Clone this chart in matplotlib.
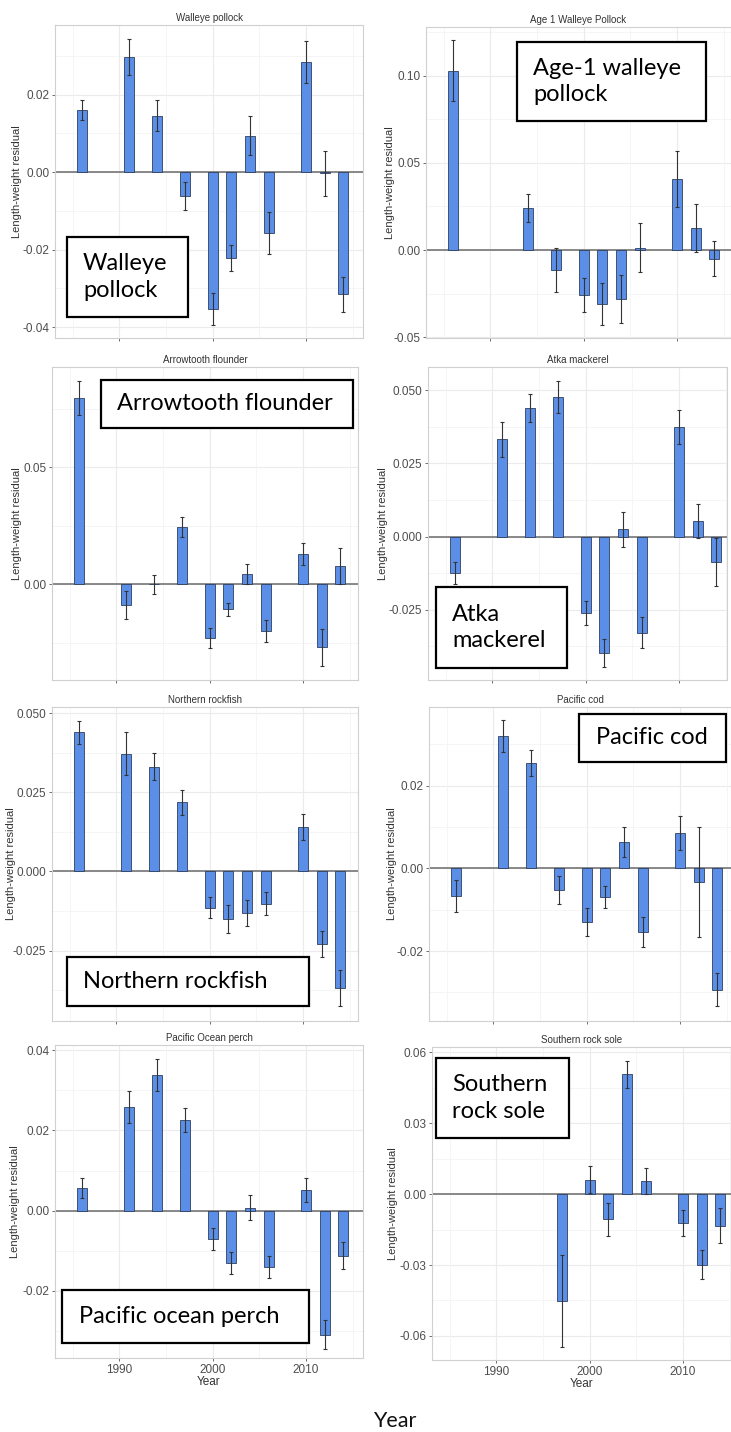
import numpy as np
import matplotlib
matplotlib.use("Agg")
import matplotlib.pyplot as plt
from matplotlib.patches import Rectangle

years = [1986, 1991, 1994, 1997, 2000, 2002, 2004, 2006, 2010, 2012, 2014]
nan = np.nan

walleye_val = [0.0161, 0.0298, 0.0146, -0.0061, -0.0353, -0.0221, 0.0094, -0.0158, 0.0284, -0.0003, -0.0315]
walleye_err = [0.0025, 0.0047, 0.0040, 0.0036, 0.0041, 0.0034, 0.0050, 0.0054, 0.0055, 0.0058, 0.0045]

age1_val = [0.1029, nan, 0.0242, -0.0114, -0.0259, -0.0309, -0.0282, 0.0013, 0.0408, 0.0126, -0.0050]
age1_err = [0.0174, nan, 0.0080, 0.0126, 0.0099, 0.0122, 0.0139, 0.0141, 0.0159, 0.0138, 0.0102]

arrow_val = [0.0798, -0.0088, 0.0000, 0.0245, -0.0231, -0.0107, 0.0044, -0.0198, 0.0130, -0.0269, 0.0077]
arrow_err = [0.0073, 0.0060, 0.0040, 0.0042, 0.0043, 0.0028, 0.0043, 0.0047, 0.0047, 0.0080, 0.0077]

atka_val = [-0.0124, 0.0332, 0.0440, 0.0478, -0.0261, -0.0398, 0.0024, -0.0329, 0.0374, 0.0054, -0.0088]
atka_err = [0.0037, 0.0060, 0.0047, 0.0055, 0.0042, 0.0047, 0.0059, 0.0053, 0.0058, 0.0058, 0.0082]

north_val = [0.0439, 0.0372, 0.0331, 0.0218, -0.0114, -0.0149, -0.0131, -0.0102, 0.0141, -0.0230, -0.0367]
north_err = [0.0037, 0.0067, 0.0042, 0.0040, 0.0034, 0.0044, 0.0040, 0.0037, 0.0041, 0.0041, 0.0057]

cod_val = [-0.0067, 0.0320, 0.0255, -0.0052, -0.0129, -0.0070, 0.0064, -0.0154, 0.0085, -0.0032, -0.0293]
cod_err = [0.0038, 0.0039, 0.0031, 0.0034, 0.0034, 0.0027, 0.0037, 0.0037, 0.0041, 0.0133, 0.0039]

pop_val = [0.0056, 0.0258, 0.0338, 0.0226, -0.0071, -0.0130, 0.0008, -0.0140, 0.0052, -0.0309, -0.0112]
pop_err = [0.0025, 0.0040, 0.0040, 0.0029, 0.0027, 0.0028, 0.0030, 0.0027, 0.0029, 0.0036, 0.0034]

srs_val = [nan, nan, nan, -0.0453, 0.0061, -0.0107, 0.0507, 0.0055, -0.0121, -0.0298, -0.0133]
srs_err = [nan, nan, nan, 0.0196, 0.0058, 0.0071, 0.0058, 0.0055, 0.0056, 0.0060, 0.0073]

titles = ["Walleye pollock", "Age 1 Walleye Pollock", "Arrowtooth flounder", "Atka mackerel",
          "Northern rockfish", "Pacific cod", "Pacific Ocean perch", "Southern rock sole"]
box_labels = ["Walleye\npollock", "Age-1 walleye\npollock", "Arrowtooth flounder", "Atka\nmackerel",
              "Northern rockfish", "Pacific cod", "Pacific ocean perch", "Southern\nrock sole"]
values = [walleye_val, age1_val, arrow_val, atka_val, north_val, cod_val, pop_val, srs_val]
errors = [walleye_err, age1_err, arrow_err, atka_err, north_err, cod_err, pop_err, srs_err]

yticks = [[-0.04, -0.02, 0.0, 0.02], [-0.05, 0.0, 0.05, 0.10], [0.0, 0.05],
          [-0.025, 0.0, 0.025, 0.05], [-0.025, 0.0, 0.025, 0.05], [-0.02, 0.0, 0.02],
          [-0.02, 0.0, 0.02, 0.04], [-0.06, -0.03, 0.0, 0.03, 0.06]]
ylims = [(-0.0428, 0.0380), (-0.0505, 0.128), (-0.0409, 0.0929), (-0.0491, 0.0580),
         (-0.0472, 0.0519), (-0.0369, 0.0390), (-0.0367, 0.0413), (-0.0702, 0.0623)]
decimals = [2, 2, 2, 3, 3, 2, 2, 2]

W, H = 731, 1432
fig = plt.figure(figsize=(W / 100, H / 100), dpi=100)
fig.patch.set_facecolor("white")

# panel boxes in pixels: left, top, right, bottom
boxes = [(55, 25, 363, 338), (426, 27, 731, 338), (52, 367, 358, 680), (428, 367, 727, 680),
         (52, 707, 358, 1021), (429, 707, 731, 1021), (55, 1045, 363, 1358), (432, 1047, 731, 1360)]
ylabel_x = [17, 390, 17, 383, 11, 392, 15, 393]
# annotation boxes: left, top, right, bottom, text x
ann = [(67, 237, 188, 317, 83), (517, 42, 706, 121, 533), (101, 380, 353, 428, 117),
       (436, 587, 567, 668, 452), (67, 957, 309, 1006, 83), (579, 714, 726, 762, 596),
       (62, 1290, 309, 1343, 79), (436, 1058, 569, 1138, 452)]

PXYR = 9.33
X0 = 1983.1
bar_color = "#5B8EE6"
tick_col = "#4D4D4D"
font = ["Liberation Sans", "DejaVu Sans"]

for i in range(8):
    l, t, r, b = boxes[i]
    ax = fig.add_axes([l / W, 1 - b / H, (r - l) / W, (b - t) / H])
    ax.set_facecolor("white")
    ax.set_xlim(X0, X0 + (r - l) / PXYR)
    ax.set_ylim(*ylims[i])
    yt = yticks[i]
    # grid
    step = yt[1] - yt[0]
    minors = [v + step / 2 for v in [yt[0] - step] + yt]
    for v in minors:
        ax.axhline(v, color="#F4F4F4", lw=0.6, zorder=0)
    for v in yt:
        ax.axhline(v, color="#EBEBEB", lw=0.8, zorder=0)
    for v in [1985, 1995, 2005, 2015]:
        ax.axvline(v, color="#F4F4F4", lw=0.6, zorder=0)
    for v in [1990, 2000, 2010]:
        ax.axvline(v, color="#EBEBEB", lw=0.8, zorder=0)
    ax.axhline(0, color="#7F7F7F", lw=1.3, zorder=1)

    vals = np.array(values[i], dtype=float)
    errs = np.array(errors[i], dtype=float)
    yrs = np.array(years, dtype=float)
    m = ~np.isnan(vals)
    ax.bar(yrs[m], vals[m], width=1.05, color=bar_color, edgecolor="#2F3F5F", linewidth=0.6, zorder=2)
    ax.errorbar(yrs[m], vals[m], yerr=errs[m], fmt="none", ecolor="#333333", elinewidth=0.8,
                capsize=1.3, capthick=0.8, zorder=3)

    ax.set_xticks([1990, 2000, 2010])
    ax.set_yticks(yt)
    ax.set_yticklabels([f"{v:.{decimals[i]}f}" for v in yt], fontsize=8.5, color=tick_col, family=font)
    if i >= 6:
        ax.set_xticklabels(["1990", "2000", "2010"], fontsize=8.5, color=tick_col, family=font)
        ax.set_xlabel("Year", fontsize=8.5, color="#333333", family=font, labelpad=0)
    else:
        ax.set_xticklabels([])
    ax.tick_params(axis="both", length=2.5, width=0.6, color="#555555", pad=1.5)
    for s in ax.spines.values():
        s.set_color("#D0D0D0")
        s.set_linewidth(0.8)

    ax.set_title(titles[i], fontsize=7, color="#333333", family=font, pad=3)
    fig.text(ylabel_x[i] / W, 1 - (t + b) / 2 / H, "Length-weight residual", rotation=90, ha="center",
             va="center", fontsize=8, color="#333333", family=font)

    al, at, ar, ab, tx = ann[i]
    fig.patches.append(Rectangle((al / W, 1 - ab / H), (ar - al) / W, (ab - at) / H,
                                 transform=fig.transFigure, facecolor="white", edgecolor="black",
                                 linewidth=1.6, zorder=10))
    fig.text(tx / W, 1 - (at + ab) / 2 / H, box_labels[i], ha="left", va="center", fontsize=17,
             family=["Lato", "DejaVu Sans"], linespacing=1.3, color="black", zorder=11)

fig.text(395 / W, 1 - 1421 / H, "Year", ha="center", va="center", fontsize=15.5,
         family=["Lato", "DejaVu Sans"], color="#111111")

fig.savefig("out.png", dpi=100, facecolor="white")
